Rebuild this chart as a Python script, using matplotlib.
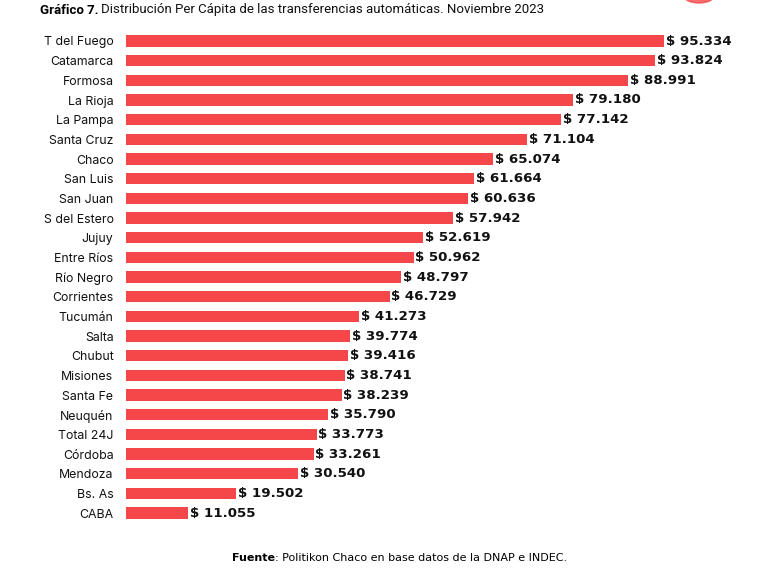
import matplotlib.pyplot as plt
from matplotlib.patches import Ellipse

provincias = ["T del Fuego", "Catamarca", "Formosa", "La Rioja", "La Pampa",
              "Santa Cruz", "Chaco", "San Luis", "San Juan", "S del Estero",
              "Jujuy", "Entre Ríos", "Río Negro", "Corrientes", "Tucumán",
              "Salta", "Chubut", "Misiones", "Santa Fe", "Neuquén",
              "Total 24J", "Córdoba", "Mendoza", "Bs. As", "CABA"]
valores = [95334, 93824, 88991, 79180, 77142, 71104, 65074, 61664, 60636,
           57942, 52619, 50962, 48797, 46729, 41273, 39774, 39416, 38741,
           38239, 35790, 33773, 33261, 30540, 19502, 11055]

rojo = '#f5474a'
plt.rcParams['font.family'] = ['Inter', 'DejaVu Sans']

fig = plt.figure(figsize=(7.67, 5.78), dpi=100)
n = len(valores)
# axes placed so bars start at x=126px, rows from y=41 to y=513
W, H = 767, 578
sp = (513 - 41) / (n - 1)
top = 41 - sp / 2
bot = 513 + sp / 2
ax = fig.add_axes([126 / W, 1 - bot / H, (720 - 126) / W, (bot - top) / H])

ypos = list(range(n))
ax.barh(ypos, valores, height=0.56, color=rojo)
ax.set_ylim(n - 0.5, -0.5)
ax.set_xlim(0, (720 - 126) / (538 / 95334))

for y, v in zip(ypos, valores):
    txt = "$ " + f"{v:,}".replace(",", ".")
    ax.text(v + 300, y, txt.replace("$", r"\$"), va='center', ha='left',
            fontsize=9.6, fontweight='bold', color='#111111',
            family=['DejaVu Sans'])

ax.set_yticks(ypos)
ax.set_yticklabels(provincias, fontsize=8.9, color='#111111')
ax.tick_params(axis='y', length=0, pad=9)
ax.set_xticks([])
for s in ax.spines.values():
    s.set_visible(False)

fig.canvas.draw()
r = fig.canvas.get_renderer()

t1 = fig.text(40 / W, 1 - 10 / H, "Gráfico 7.", fontsize=9.5, fontweight='bold',
              va='center', ha='left', family=['Roboto', 'DejaVu Sans'])
x1 = t1.get_window_extent(r).x1
fig.text(x1 / W + 3 / W, 1 - 10 / H,
         "Distribución Per Cápita de las transferencias automáticas. Noviembre 2023",
         fontsize=9.5, va='center', ha='left', family=['Roboto', 'DejaVu Sans'], color='#111111')

f1 = fig.text(232 / W, 1 - 558 / H, "Fuente", fontsize=8.0, fontweight='bold',
              va='center', ha='left', family=['DejaVu Sans'])
x2 = f1.get_window_extent(r).x1
fig.text(x2 / W, 1 - 558 / H, ": Politikon Chaco en base datos de la DNAP e INDEC.",
         fontsize=8.0, va='center', ha='left', family=['DejaVu Sans'])

fig.patches.append(Ellipse((699 / W, 1 + 4 / H), 30 / W, 14 / H,
                           transform=fig.transFigure, color=rojo, alpha=0.8))

fig.savefig("out.png", dpi=100)
